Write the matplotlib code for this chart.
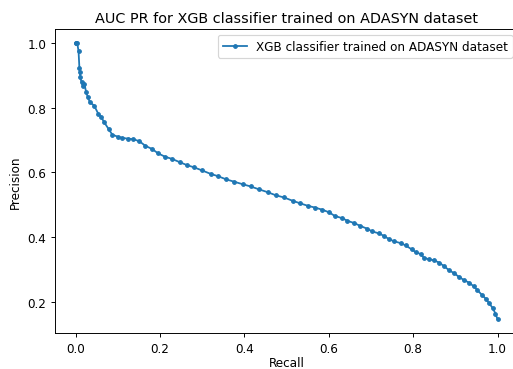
"""
Precision-recall curve for the XGB classifier trained on the ADASYN dataset.
Points read off the reference picture.
"""

import matplotlib
matplotlib.use("Agg")
import matplotlib.pyplot as plt

recall = [0.000, 0.002, 0.004, 0.007, 0.009, 0.010, 0.011, 0.014, 0.017,
          0.021, 0.025, 0.029, 0.034, 0.044, 0.054, 0.060, 0.068, 0.078,
          0.087, 0.100, 0.111, 0.124, 0.137, 0.151, 0.165, 0.181, 0.196,
          0.212, 0.229, 0.247, 0.264, 0.281, 0.299, 0.320, 0.337, 0.357,
          0.375, 0.396, 0.415, 0.435, 0.456, 0.474, 0.494, 0.514, 0.532,
          0.551, 0.567, 0.585, 0.601, 0.614, 0.632, 0.644, 0.660, 0.675,
          0.690, 0.703, 0.719, 0.731, 0.743, 0.754, 0.770, 0.782, 0.796,
          0.806, 0.818, 0.825, 0.837, 0.849, 0.861, 0.873, 0.885, 0.897,
          0.908, 0.920, 0.932, 0.943, 0.952, 0.962, 0.972, 0.980, 0.988,
          0.995, 1.000]
precision = [1.000, 1.000, 0.998, 0.974, 0.922, 0.909, 0.894, 0.878, 0.866,
             0.873, 0.847, 0.832, 0.816, 0.806, 0.780, 0.772, 0.754, 0.734,
             0.716, 0.710, 0.706, 0.704, 0.702, 0.696, 0.682, 0.672, 0.658,
             0.648, 0.641, 0.631, 0.622, 0.615, 0.606, 0.595, 0.588, 0.578,
             0.571, 0.563, 0.556, 0.547, 0.538, 0.529, 0.522, 0.512, 0.504,
             0.496, 0.491, 0.484, 0.476, 0.465, 0.458, 0.450, 0.443, 0.434,
             0.426, 0.417, 0.411, 0.403, 0.393, 0.387, 0.381, 0.374, 0.362,
             0.353, 0.347, 0.336, 0.331, 0.328, 0.321, 0.310, 0.297, 0.288,
             0.277, 0.267, 0.259, 0.248, 0.236, 0.222, 0.209, 0.195, 0.181,
             0.163, 0.145]

label = "XGB classifier trained on ADASYN dataset"

W, H, DPI = 513, 370, 86
fig = plt.figure(figsize=(W / DPI, H / DPI), dpi=DPI)
ax = fig.add_axes([54.5 / W, (H - 334.3) / H, (518.7 - 54.5) / W, (334.3 - 30) / H])

ax.plot(recall, precision, marker=".", label=label)
ax.set_title(f"AUC PR for {label}")
ax.set_xlabel("Recall", labelpad=1.5)
ax.set_ylabel("Precision")
ax.legend(loc="upper right")

fig.savefig("out.png", dpi=DPI)
